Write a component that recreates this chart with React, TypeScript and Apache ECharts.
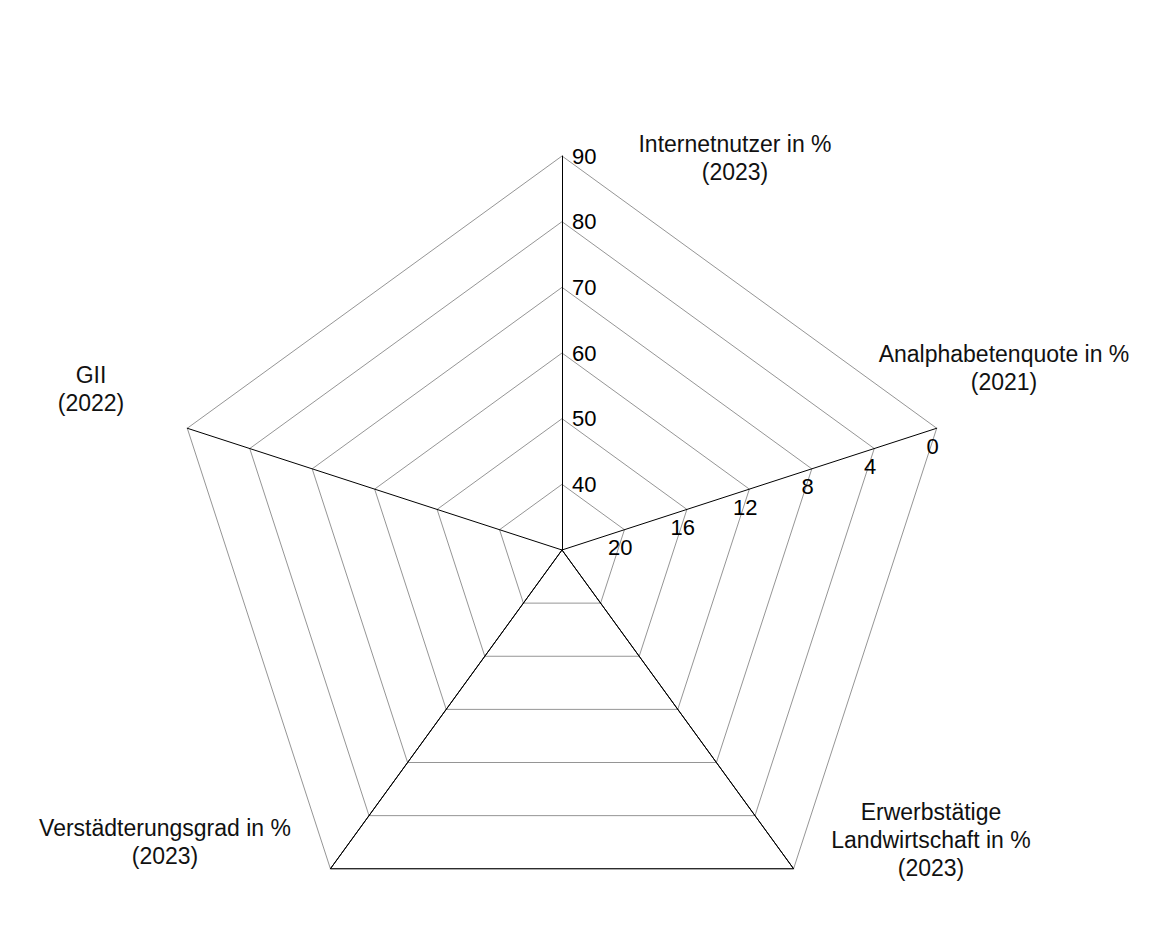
import React, { useEffect, useRef } from "react";
import * as echarts from "echarts";

// Indicators in ECharts order (counter-clockwise from top)
const indicatorNames = [
  "Internetnutzer in %\n(2023)",
  "GII\n(2022)",
  "Verstädterungsgrad in %\n(2023)",
  "Erwerbstätige\nLandwirtschaft in %\n(2023)",
  "Analphabetenquote in %\n(2021)",
];
const indicatorMin = [30, 0, 0, 0, 0];
const indicatorMax = [90, 1, 100, 60, 24];
// Analphabetenquote axis is drawn reversed (0 at the outer ring)
const analphabetenTop = 24;

// Series values (real units)
const internetnutzer = 30;
const gii = 0;
const verstaedterung = 100;
const erwerbstaetigeLandwirtschaft = 60;
const analphabetenquote = 24;

// Name label positions (px, page coordinates)
const namePositions: [number, number][] = [
  [735, 158],
  [91, 389],
  [165, 842],
  [931, 840],
  [1004, 368],
];

const FONT = "'Liberation Sans', Arial, Helvetica, sans-serif";

export default function App() {
  const ref = useRef<HTMLDivElement>(null);
  useEffect(() => {
    if (!ref.current) return;
    const chart = echarts.init(ref.current, undefined, { renderer: "svg" });
    const labelStyle = { color: "#000", fontSize: 22, fontFamily: FONT };
    const indicator = indicatorNames.map((name, i) => {
      const base: any = { name, min: indicatorMin[i], max: indicatorMax[i] };
      if (i === 0) {
        base.axisLabel = {
          show: true,
          ...labelStyle,
          margin: -10,
          align: "left",
          verticalAlign: "middle",
          padding: [6, 0, 0, 0],
          formatter: (v: number) => (v === indicatorMin[0] ? "" : String(v)),
        };
      }
      if (i === 4) {
        base.axisLabel = {
          show: true,
          ...labelStyle,
          margin: -19,
          align: "center",
          verticalAlign: "middle",
          padding: [0, 20, 0, 0],
          formatter: (v: number) => (v === 0 ? "" : String(analphabetenTop - v)),
        };
      }
      return base;
    });
    const values = [
      internetnutzer,
      gii,
      verstaedterung,
      erwerbstaetigeLandwirtschaft,
      analphabetenTop - analphabetenquote,
    ];
    chart.setOption({
      animation: false,
      radar: {
        center: [554, 542],
        radius: 394,
        startAngle: 90,
        splitNumber: 6,
        shape: "polygon",
        indicator,
        axisName: { show: false },
        axisLine: { show: true, lineStyle: { color: "#000", width: 1 } },
        splitLine: { show: true, lineStyle: { color: "#7a7a7a", width: 0.8 } },
        splitArea: { show: false },
        axisTick: { show: false },
        axisLabel: { show: false, ...labelStyle },
      },
      series: [
        {
          type: "radar",
          symbol: "none",
          lineStyle: { color: "#000", width: 1 },
          data: [{ value: values }],
        },
      ],
      graphic: indicatorNames.map((name, i) => ({
        type: "text",
        x: namePositions[i][0] - 8,
        y: namePositions[i][1] - 8,
        style: {
          text: name,
          fill: "#111",
          font: `23px ${FONT}`,
          lineHeight: 28,
          align: "center",
          verticalAlign: "middle",
        },
      })),
    });
    return () => chart.dispose();
  }, []);
  return <div ref={ref} style={{ width: 1152, height: 922 }} />;
}
